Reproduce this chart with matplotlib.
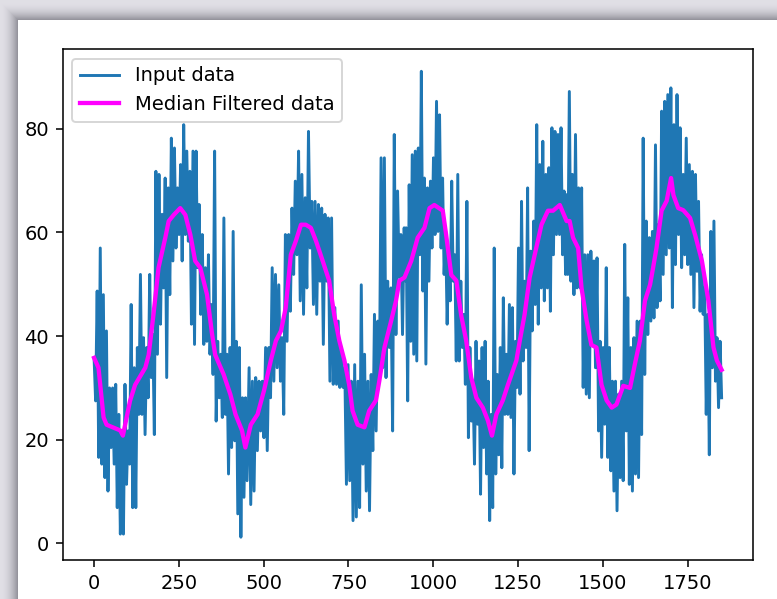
import numpy as np
import matplotlib.pyplot as plt

# median filtered curve
med_x = [0, 13, 28, 37, 77, 85, 106, 121, 151, 161, 175, 190, 210, 220, 235, 254,
         269, 284, 298, 313, 333, 348, 357, 382, 402, 417, 436, 446, 462, 482, 501,
         521, 536, 551, 565, 580, 595, 610, 624, 639, 654, 674, 693, 708, 723, 738,
         752, 762, 777, 797, 811, 831, 841, 856, 876, 890, 900, 915, 935, 954, 974,
         989, 1003, 1028, 1038, 1053, 1068, 1082, 1097, 1112, 1127, 1146, 1161, 1173,
         1186, 1205, 1220, 1245, 1255, 1269, 1284, 1299, 1319, 1338, 1353, 1373, 1393,
         1402, 1412, 1427, 1437, 1452, 1466, 1481, 1496, 1511, 1526, 1540, 1560, 1580,
         1594, 1609, 1624, 1639, 1648, 1658, 1673, 1688, 1701, 1708, 1722, 1737, 1757,
         1772, 1792, 1811, 1826, 1836, 1850]
med_y = [35.8, 33.9, 24.3, 22.9, 21.8, 20.8, 27.5, 30.6, 33.9, 36.4, 44.1, 53.2, 59, 62.2,
         63.4, 64.7, 63.4, 59.5, 54.5, 53.2, 48, 40.3, 36.4, 32.6, 28.7, 24.9, 21.8, 18.5,
         22.9, 24.9, 29.5, 35.3, 39.1, 41, 45.5, 55.7, 58.4, 61.5, 61.5, 60.9, 58.4, 54.5,
         50.7, 44.1, 39.1, 35.3, 30.6, 25.6, 22.9, 22.4, 25.6, 27.6, 31.4, 37.8, 43, 46.8,
         50.7, 51.3, 54.5, 59, 60.9, 64.7, 65.3, 64.2, 59.5, 51.8, 50.7, 44.1, 39.1, 32,
         28.1, 26.2, 23.7, 20.8, 24.9, 27.6, 30.6, 35.3, 39.1, 44.1, 51.3, 55.7, 61.5,
         64.2, 64.2, 65.3, 62.2, 62.2, 59, 57, 49.3, 43, 38.3, 37.8, 30.6, 27.6, 26.2,
         26.8, 30.4, 30, 34.5, 39.1, 46.8, 49.9, 53.2, 57, 64.2, 66.1, 70.5, 67.2, 64.7,
         64.3, 62.8, 59.5, 54.5, 46.8, 37.8, 35.3, 33.5]

# input data: top and bottom of the noisy band, column by column, in 4 stretches
seg_ranges = [(0, 451), (457, 919), (920, 1390), (1392, 1850)]

hi_1 = [35.8, 48.7, 57, 48, 41, 30, 30, 30.7, 24.9, 21.7, 30.7, 21.7, 46.1, 33.9, 37.8,
        51.9, 39.7, 37.8, 51.9, 40.3, 71.8, 71.2, 63.5, 70.5, 68.6, 78.2, 76.3, 68.6, 73.1,
        80.8, 75.7, 71.8, 75.7, 75.7, 65.4, 59.6, 53.2, 55.7, 46.1, 75.7, 39, 36.5, 62.8,
        36.5, 37.8, 60.2, 39, 37.8, 28.1, 28.1]
lo_1 = [27.5, 16.6, 15.3, 12.7, 10.1, 18.5, 15.3, 6.9, 1.8, 1.8, 11.4, 15.3, 6.9, 6.9, 24.9,
        24.9, 21, 28.1, 32, 21, 36.5, 42.3, 49.3, 32, 48, 54.5, 57, 59.6, 54.5, 59.6, 58.3,
        42.3, 38.4, 53.2, 44.2, 38.4, 39, 36.5, 32.6, 23.6, 28.1, 24.3, 24.9, 13.4, 18.5,
        19.8, 5.7, 1.2, 8.9, 12.1]

hi_2 = [33.9, 31.3, 32, 31.3, 31.3, 37.8, 37.8, 53.2, 51.9, 49.9, 39.7, 59.6, 59.6, 64.7,
        69.9, 75.7, 71.2, 66.7, 79.5, 66, 66, 65.4, 64.7, 63.5, 62.8, 62.8, 45.5, 42.9, 37.8,
        33.9, 34.5, 31.3, 34.5, 31.3, 49.9, 36.5, 31.3, 32.6, 44.2, 42.9, 74.4, 74.4, 50.6,
        49.3, 78.9, 68, 59.6, 60.9]
lo_2 = [7.5, 10.1, 17.9, 21.7, 20.4, 17.9, 28.1, 31.3, 33.9, 31.3, 24.9, 39, 44.8, 51.9,
        55.7, 46.8, 44.2, 49.3, 57, 46.1, 44.2, 50.6, 38.4, 50.6, 31.3, 30.7, 30.7, 30.1,
        30.1, 11.4, 12.1, 4.4, 5.1, 6.9, 15.3, 10.1, 6.3, 17.9, 21.7, 31.3, 33.9, 32, 37.8,
        21.7, 40.3, 51.3, 40.3, 50.6]

hi_3 = [60.9, 69.2, 75, 75.7, 76.3, 91.1, 70.5, 68.6, 69.9, 74.4, 85.3, 82.7, 70.5, 60.2,
        55.7, 69.9, 55.7, 71.2, 50.6, 44.2, 66, 37.8, 31.3, 39, 35.2, 37.8, 39, 31.3, 24.9,
        57, 32.6, 37.8, 47.4, 36.5, 46.1, 45.5, 39, 57, 66, 50.6, 68.6, 56.4, 62.2, 80.8,
        73.1, 77.6, 71.2, 72.5, 80.2, 79.5, 78.9, 80.2, 68]
lo_3 = [27.5, 39, 36.5, 35.2, 55.7, 48.7, 34.6, 50.6, 57, 59.6, 60.2, 57, 51.9, 42.3, 46.8,
        50.6, 35.2, 35.2, 37.8, 30.7, 20.4, 23.6, 15.3, 23, 9.5, 18.5, 13.4, 4.4, 6.9, 13.4,
        17.1, 14.6, 24.9, 24.9, 24.3, 13.4, 30.1, 28.8, 35.2, 37.8, 17.9, 41, 46.1, 42.3,
        49.3, 46.8, 49.3, 44.8, 55.7, 59.6, 59.6, 55.7, 51.9]

hi_4 = [67.3, 87.2, 71.2, 78.9, 68.6, 68.6, 55.7, 55.7, 56.4, 54.5, 55.1, 39, 37.8, 53.2,
        37.8, 31.3, 31.3, 28.8, 31.3, 57.7, 47.4, 37.8, 39.7, 42.9, 42.9, 78.2, 62.2, 59,
        60.2, 76.9, 61.5, 83.4, 85.3, 86.6, 87.9, 80.8, 86.6, 80.2, 71.2, 78.2, 73.1, 71.8,
        71.2, 66, 55.7, 49.3, 44.2, 60.2, 62.2, 39.7, 39]
lo_4 = [51.9, 50.6, 48, 49.3, 49.3, 30.1, 28.8, 28.1, 38.4, 33.9, 21.7, 16.6, 23, 16.6, 14,
        10.1, 6.3, 12.7, 12.1, 21.7, 11.4, 10.1, 13.4, 12.7, 21, 32.6, 40.3, 42.9, 43.5,
        45.5, 46.8, 51.9, 55.7, 57, 45.5, 53.8, 59.6, 53.2, 55.7, 53.8, 51.9, 45.5, 52.5,
        44.8, 44.2, 24.9, 17.1, 33.9, 31.3, 26.2, 28.1]

his = [hi_1, hi_2, hi_3, hi_4]
los = [lo_1, lo_2, lo_3, lo_4]

input_x = []
input_y = []
for (a, b), hi, lo in zip(seg_ranges, his, los):
    ys = np.empty(2 * len(hi))
    ys[0::2] = hi
    ys[1::2] = lo
    input_x.extend(np.linspace(a, b, len(ys)))
    input_y.extend(ys)

W, H, DPI = 777, 599, 140
fig = plt.figure(figsize=(W / DPI, H / DPI), dpi=DPI)

# screenshot frame: grey border with a shadow round the white window
yy, xx = np.mgrid[0:H, 0:W]
d = np.maximum(18 - xx, 20 - yy).astype(float)
t = np.clip(d / 18.0, 0, 1)
light = np.array([0.88, 0.875, 0.90])
dark = np.array([0.55, 0.545, 0.58])
frame = light - (light - dark) * ((1 - t) ** 2)[..., None]
frame[d <= 0] = 1.0
bg = fig.add_axes([0, 0, 1, 1])
bg.imshow(frame, aspect='auto', interpolation='nearest')
bg.axis('off')

ax = fig.add_axes([62.7 / W, 1 - 560 / H, (753 - 62.7) / W, (560 - 49) / H])
ax.plot(input_x, input_y, label='Input data')
ax.plot(med_x, med_y, color='magenta', linewidth=2.2, label='Median Filtered data')
ax.set_xlim(-92.5, 1942.5)
ax.set_ylim(-3.2, 95.4)
ax.legend(loc='upper left')

fig.savefig('out.png', dpi=DPI)
